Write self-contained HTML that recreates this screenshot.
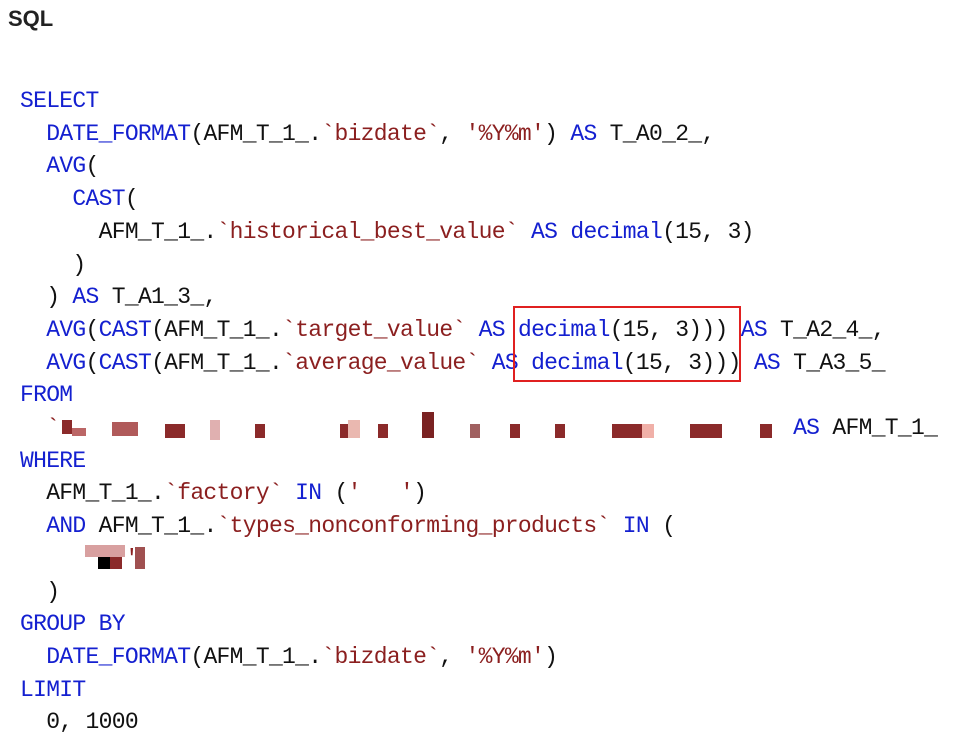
<!DOCTYPE html>
<html><head><meta charset="utf-8"><style>
body{margin:0;background:#fff;width:971px;height:741px;position:relative;overflow:hidden}
.t{position:absolute;left:8px;top:6px;font:bold 22px "Liberation Sans",sans-serif;color:#222}
.c{position:absolute;left:20px;top:85px;font-family:"Liberation Mono",monospace;font-size:23px;letter-spacing:-0.7px;line-height:32.7px;white-space:pre;color:#111}
.k{color:#1420d0}.s{color:#8b1f1f}
.box{position:absolute;left:513px;top:306px;width:224px;height:72px;border:2px solid #e02020}
.px{position:absolute;height:14px}
</style></head><body>
<div class="t">SQL</div>
<div class="c"><span class="k">SELECT</span>
  <span class="k">DATE_FORMAT</span>(AFM_T_1_.<span class="s">`bizdate`</span>, <span class="s">'%Y%m'</span>) <span class="k">AS</span> T_A0_2_,
  <span class="k">AVG</span>(
    <span class="k">CAST</span>(
      AFM_T_1_.<span class="s">`historical_best_value`</span> <span class="k">AS</span> <span class="k">decimal</span>(15, 3)
    )
  ) <span class="k">AS</span> T_A1_3_,
  <span class="k">AVG</span>(<span class="k">CAST</span>(AFM_T_1_.<span class="s">`target_value`</span> <span class="k">AS</span> <span class="k">decimal</span>(15, 3))) <span class="k">AS</span> T_A2_4_,
  <span class="k">AVG</span>(<span class="k">CAST</span>(AFM_T_1_.<span class="s">`average_value`</span> <span class="k">AS</span> <span class="k">decimal</span>(15, 3))) <span class="k">AS</span> T_A3_5_
<span class="k">FROM</span>
  <span class="s">`</span>                                                        <span class="k">AS</span> AFM_T_1_
<span class="k">WHERE</span>
  AFM_T_1_.<span class="s">`factory`</span> <span class="k">IN</span> (<span class="s">'   '</span>)
  <span class="k">AND</span> AFM_T_1_.<span class="s">`types_nonconforming_products`</span> <span class="k">IN</span> (
    <span class="s">    '</span>
  )
<span class="k">GROUP BY</span>
  <span class="k">DATE_FORMAT</span>(AFM_T_1_.<span class="s">`bizdate`</span>, <span class="s">'%Y%m'</span>)
<span class="k">LIMIT</span>
  0, 1000</div>
<div class="box"></div>
<div class="px" style="left:62px;top:420px;width:10px;background:#8b2a2a"></div>
<div class="px" style="left:72px;top:428px;width:14px;height:8px;background:#b66"></div>
<div class="px" style="left:112px;top:422px;width:26px;height:14px;background:#b05a5a"></div>
<div class="px" style="left:165px;top:424px;width:20px;background:#8b2a2a"></div>
<div class="px" style="left:210px;top:420px;width:10px;height:20px;background:#e0b0b0"></div>
<div class="px" style="left:255px;top:424px;width:10px;background:#8b2a2a"></div>
<div class="px" style="left:340px;top:424px;width:12px;background:#8b2a2a"></div>
<div class="px" style="left:348px;top:420px;width:12px;height:18px;background:#eab8b0"></div>
<div class="px" style="left:378px;top:424px;width:10px;background:#8b2a2a"></div>
<div class="px" style="left:422px;top:412px;width:12px;height:26px;background:#7a2222"></div>
<div class="px" style="left:470px;top:424px;width:10px;background:#a06060"></div>
<div class="px" style="left:510px;top:424px;width:10px;background:#8b2a2a"></div>
<div class="px" style="left:555px;top:424px;width:10px;background:#8b2a2a"></div>
<div class="px" style="left:612px;top:424px;width:30px;background:#8b2a2a"></div>
<div class="px" style="left:642px;top:424px;width:12px;background:#f0b0a8"></div>
<div class="px" style="left:690px;top:424px;width:32px;background:#8b2a2a"></div>
<div class="px" style="left:760px;top:424px;width:12px;background:#8b2a2a"></div>
<div class="px" style="left:85px;top:545px;width:40px;height:12px;background:#d8a0a0"></div>
<div class="px" style="left:98px;top:557px;width:12px;height:12px;background:#000"></div>
<div class="px" style="left:110px;top:557px;width:12px;height:12px;background:#8b2a2a"></div>
<div class="px" style="left:135px;top:547px;width:10px;height:22px;background:#a05050"></div>
</body></html>
